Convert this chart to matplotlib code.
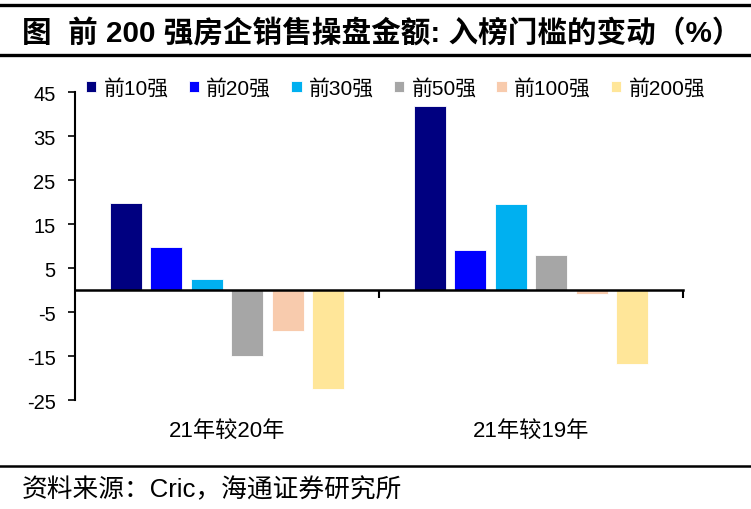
import matplotlib
matplotlib.use("Agg")
import matplotlib.pyplot as plt
import matplotlib.transforms as mtransforms
import numpy as np

plt.rcParams['font.family'] = ['Liberation Sans', 'Noto Sans CJK SC']
plt.rcParams['axes.unicode_minus'] = False

categories = ['21年较20年', '21年较19年']
series_names = ['前10强', '前20强', '前30强', '前50强', '前100强', '前200强']
values = {
    '前10强': [19.7, 41.9],
    '前20强': [9.8, 9.2],
    '前30强': [2.4, 19.6],
    '前50强': [-14.9, 8.0],
    '前100强': [-9.4, -0.8],
    '前200强': [-22.6, -16.9],
}
colors = ['#000080', '#0000FF', '#00B0F0', '#A6A6A6', '#F8CBAD', '#FFE699']
yticks = [45, 35, 25, 15, 5, -5, -15, -25]

fig = plt.figure(figsize=(7.51, 5.10), dpi=100)
ax = fig.add_axes([0.0999, 0.2137, 0.8096, 0.6039])

x = np.arange(len(categories))
slot = 0.133
width = 0.105
for i, name in enumerate(series_names):
    ax.bar(x + (i - 2.5) * slot, values[name], width=width, color=colors[i],
           edgecolor='white', linewidth=0.6, label=name, zorder=2)

ax.set_xlim(-0.5, 1.5)
ax.set_ylim(-25, 45)
ax.set_yticks(yticks)
ax.tick_params(axis='y', direction='out', length=5, width=1.2, labelsize=14.5, pad=9)

for s in ['top', 'right']:
    ax.spines[s].set_visible(False)
ax.spines['left'].set_linewidth(1.5)
ax.spines['bottom'].set_position(('data', 0))
ax.spines['bottom'].set_linewidth(1.8)
ax.spines['bottom'].set_zorder(3)

ax.set_xticks([0.5, 1.5])
ax.set_xticklabels(['', ''])
ax.tick_params(axis='x', direction='out', length=6, width=1.5)

trans = mtransforms.blended_transform_factory(ax.transData, fig.transFigure)
for xi, c in zip(x, categories):
    ax.text(xi, 1 - 431 / 510, c, transform=trans, ha='center', va='center', fontsize=16)

leg = ax.legend(loc='center left', bbox_to_anchor=(0.018, 1.013), ncol=6, frameon=False,
                fontsize=15, handlelength=0.5, handleheight=0.5, handletextpad=0.35,
                columnspacing=0.95, borderaxespad=0, borderpad=0)

# title with rules
fig.text(0.029, 1 - 33 / 510, '图  前 200 强房企销售操盘金额: 入榜门槛的变动（%）',
         fontsize=21.3, fontweight='bold', ha='left', va='center')
fig.add_artist(plt.Line2D([0.0, 1.0], [1 - 6 / 510, 1 - 6 / 510], color='black', linewidth=2.4))
fig.add_artist(plt.Line2D([0.0, 1.0], [1 - 56 / 510, 1 - 56 / 510], color='black', linewidth=2.4))
fig.add_artist(plt.Line2D([0.0, 1.0], [1 - 467 / 510, 1 - 467 / 510], color='black', linewidth=1.8))
fig.text(0.029, 1 - 490 / 510, '资料来源：Cric，海通证券研究所', fontsize=18.5, ha='left', va='center')

fig.savefig('out.png', dpi=100)
